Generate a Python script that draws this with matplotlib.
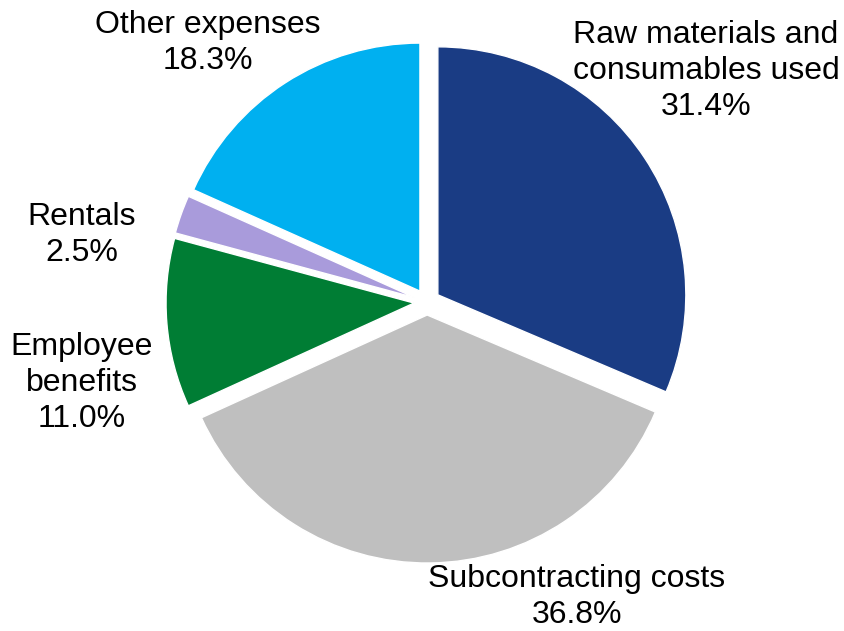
import matplotlib.pyplot as plt

plt.rcParams['font.family'] = ['Liberation Sans', 'DejaVu Sans']

# expense breakdown (% of total)
categories = ['Raw materials and\nconsumables used', 'Subcontracting costs',
              'Employee\nbenefits', 'Rentals', 'Other expenses']
shares = [31.4, 36.8, 11.0, 2.5, 18.3]
colors = ['#1A3C84', '#BFBFBF', '#007D34', '#A99BDB', '#00B0F0']

# where each label block sits (pixel coords, origin bottom-left)
label_pos = [(706, 560), (577, 34), (82, 248), (82, 396), (208, 588)]

W, H = 844, 631
fig = plt.figure(figsize=(W / 100, H / 100), dpi=100)
ax = fig.add_axes([0, 0, 1, 1])

R = 248
ax.pie(shares, colors=colors, radius=R, center=(427, H - 302),
       startangle=90, counterclock=False, explode=[13] * len(shares),
       wedgeprops=dict(linewidth=1, edgecolor='white'), frame=True)
ax.set_xlim(0, W)
ax.set_ylim(0, H)
ax.set_aspect('equal')
ax.axis('off')

for name, val, (x, y) in zip(categories, shares, label_pos):
    ax.text(x, y, f'{name}\n{val:.1f}%', ha='center', va='center',
            fontsize=23, linespacing=1.25, color='black')

fig.savefig('out.png', dpi=100)
